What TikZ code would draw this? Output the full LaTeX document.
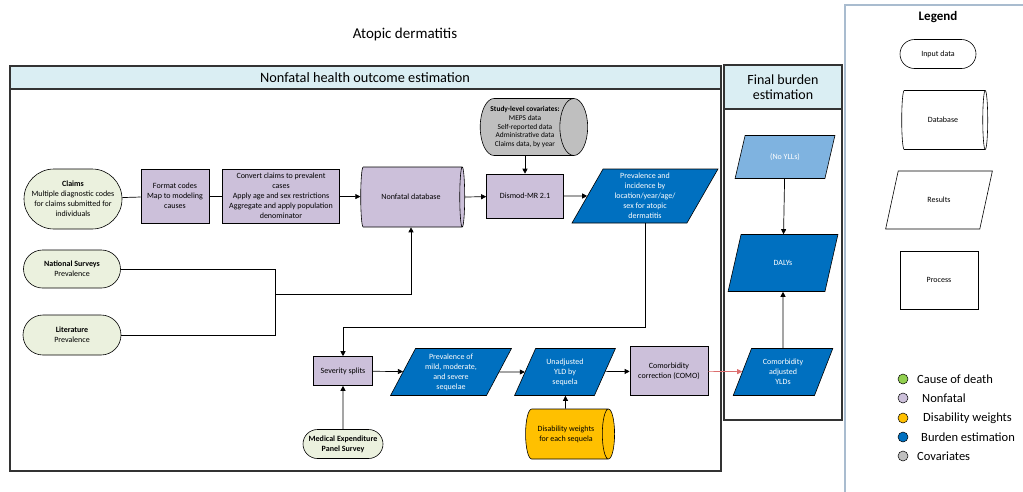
\documentclass[tikz,border=0pt]{standalone}
\usepackage{fontspec}
\setmainfont{Carlito}
\usetikzlibrary{shapes.geometric,shapes.misc,shapes.symbols,arrows.meta}
\definecolor{hdr}{HTML}{DAEEF3}
\definecolor{inp}{HTML}{EBF1DE}
\definecolor{nf}{HTML}{CCC0DA}
\definecolor{bur}{HTML}{0070C0}
\definecolor{lbur}{HTML}{7FB3E0}
\definecolor{dw}{HTML}{FFC000}
\definecolor{cov}{HTML}{BFBFBF}
\definecolor{cod}{HTML}{92D050}
\definecolor{redln}{HTML}{DC6E6E}
\definecolor{lgd}{HTML}{A9BCCF}
\begin{document}
\begin{tikzpicture}[x=1pt,y=-1pt,
 every node/.style={inner sep=1pt, align=center, font=\fontsize{8}{10}\selectfont},
 inbox/.style={rounded rectangle, draw, fill=inp, line width=0.6pt},
 proc/.style={rectangle, draw, fill=nf, line width=0.6pt},
 res/.style={trapezium, trapezium left angle=64, trapezium right angle=116, trapezium stretches=true, draw, fill=bur, text=white, line width=0.6pt},
 db/.style={cylinder, draw, aspect=0.65, inner xsep=0pt, line width=0.6pt},
 frame/.style={draw=black!80, line width=1.1pt},
 conn/.style={line width=0.7pt},
 arr/.style={conn, -{Triangle[length=5pt,width=5pt]}},
 lgshape/.style={draw, line width=0.6pt, font=\fontsize{8}{10}\selectfont},
 lgtext/.style={anchor=west, font=\fontsize{12.5}{14}\selectfont},
 dot/.style={circle, draw, line width=0.5pt, minimum size=10pt, inner sep=0pt},
]
\useasboundingbox (0,0) rectangle (1023,491);
\fill[white] (0,0) rectangle (1023,491);

% title
\node[font=\fontsize{15}{17}\selectfont] (title) at (405,34) {Atopic dermatitis};

% main frame
\fill[hdr] (10,66) rectangle (721,89);
\draw[frame] (10,66) rectangle (721,471);
\draw[frame] (10,89) -- (721,89);
\node[font=\fontsize{14.3}{16}\selectfont] (mainhdr) at (365,77.5) {Nonfatal health outcome estimation};

% final burden frame
\fill[hdr] (724,65) rectangle (842,109);
\draw[frame] (724,65) rectangle (842,420);
\draw[frame] (724,109) -- (842,109);
\node[font=\fontsize{14}{15}\selectfont] (finhdr) at (783,87) {Final burden\\estimation};

% legend frame
\draw[lgd, line width=1.3pt] (845,500) -- (845,5) -- (1030,5);
\node[font=\bfseries\fontsize{13}{15}\selectfont] (lgtitle) at (938,17) {Legend};

% inputs
\node[inbox, minimum width=100pt, minimum height=60pt] (claims) at (73,199)
 {\textbf{Claims}\\Multiple diagnostic codes\\for claims submitted for\\individuals};
\node[inbox, minimum width=99pt, minimum height=38pt] (nat) at (72,269)
 {\textbf{National Surveys}\\Prevalence};
\node[inbox, minimum width=100pt, minimum height=40pt] (lit) at (72,335)
 {\textbf{Literature}\\Prevalence};
\node[inbox, minimum width=82pt, minimum height=29pt] (meps) at (343,444)
 {\textbf{Medical Expenditure}\\\textbf{Panel Survey}};

% processes
\node[proc, minimum width=68pt, minimum height=54pt] (fmt) at (175,196)
 {Format codes\\Map to modeling\\causes};
\node[proc, minimum width=117pt, minimum height=54pt] (conv) at (281,196)
 {Convert claims to prevalent\\cases\\Apply age and sex restrictions\\Aggregate and apply population\\denominator};
\node[proc, minimum width=77pt, minimum height=44pt] (dismod) at (525,196) {Dismod-MR 2.1};
\node[proc, minimum width=59pt, minimum height=29pt] (sev) at (343,371) {Severity splits};
\node[proc, minimum width=78pt, minimum height=49pt] (como) at (669,371)
 {Comorbidity\\correction (COMO)};

% databases
\node[db, fill=nf, minimum height=104pt, minimum width=60pt] (nfdb) at (411,197) {Nonfatal database};
\node[db, fill=cov, minimum height=100pt, minimum width=57pt, font=\fontsize{7.4}{8.6}\selectfont] (cov) at (525,127)
 {\textbf{Study-level covariates:}\\MEPS data\\Self-reported data\\Administrative data\\Claims data, by year};
\node[db, fill=dw, minimum height=89pt, minimum width=50pt] (dwt) at (566,434)
 {Disability weights\\for each sequela};

% results
\node[res, minimum width=146pt, minimum height=54pt] (prev) at (645,196)
 {Prevalence and\\incidence by\\location/year/age/\\sex for atopic\\dermatitis};
\node[res, minimum width=121pt, minimum height=47pt] (mild) at (451,372)
 {Prevalence of\\mild, moderate,\\and severe\\sequelae};
\node[res, minimum width=101pt, minimum height=47pt] (unadj) at (565,372)
 {Unadjusted\\YLD by\\sequela};
\node[res, fill=lbur, trapezium left angle=66, trapezium right angle=114, minimum width=100pt, minimum height=43pt] (noyll) at (785,157) {(No YLLs)};
\node[res, trapezium left angle=66, trapezium right angle=114, minimum width=110pt, minimum height=57pt] (daly) at (783,263) {DALYs};
\node[res, trapezium left angle=66, trapezium right angle=114, minimum width=100pt, minimum height=47pt] (cay) at (783,372)
 {Comorbidity\\adjusted\\YLDs};

% connectors
\draw[conn] (claims) -- (fmt);
\draw[conn] (fmt) -- (conv);
\draw[arr] (conv) -- (nfdb);
\draw[arr] (nfdb.east) -- (dismod);
\draw[arr] (cov.south -| dismod.north) -- (dismod.north);
\draw[arr] (dismod) -- (prev);
\coordinate (jn) at (275,294);
\draw[conn] (nat.east) -| (jn);
\draw[conn] (lit.east) -| (jn);
\draw[arr] (jn) -| (nfdb.south);
\coordinate (bend) at (0,327);
\draw[arr] (prev.south) -- (prev.south |- bend) -| (sev.north);
\draw[arr] (meps) -- (sev);
\draw[arr] (sev) -- (mild);
\draw[arr] (mild) -- (unadj);
\draw[arr] (unadj) -- (como);
\draw[arr] (dwt) -- (unadj);
\draw[arr, redln] (como) -- (cay);
\draw[arr] (noyll) -- (daly);
\draw[arr] (cay) -- (daly);

% legend shapes
\node[lgshape, rounded rectangle, minimum width=78pt, minimum height=29pt] (lin) at (938,54) {Input data};
\node[lgshape, cylinder, aspect=0.65, minimum height=86pt, minimum width=59pt] (ldb) at (943,120) {Database};
\node[lgshape, trapezium, trapezium left angle=63, trapezium right angle=117, trapezium stretches=true, minimum width=107pt, minimum height=58pt] (lres) at (939,200) {Results};
\node[lgshape, rectangle, minimum width=78pt, minimum height=58pt] (lproc) at (939,280) {Process};

% legend colours
\node[dot, fill=cod] (d1) at (903,379) {};
\node[lgtext] (t1) at (916,379) {Cause of death};
\node[dot, fill=nf] (d2) at (903,398) {};
\node[lgtext] (t2) at (921,398) {Nonfatal};
\node[dot, fill=dw] (d3) at (903,418) {};
\node[lgtext] (t3) at (922,418) {Disability weights};
\node[dot, fill=bur] (d4) at (903,437) {};
\node[lgtext] (t4) at (920,437) {Burden estimation};
\node[dot, fill=cov] (d5) at (903,456) {};
\node[lgtext] (t5) at (916,456) {Covariates};
\end{tikzpicture}
\end{document}
